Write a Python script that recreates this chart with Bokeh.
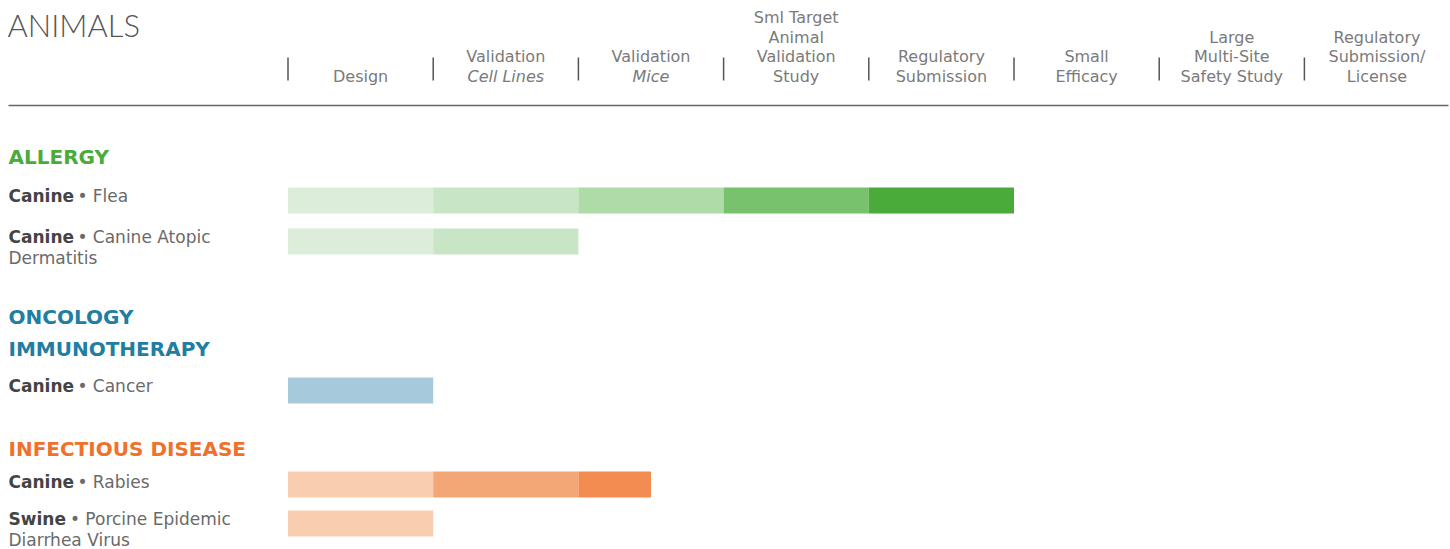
from bokeh.plotting import figure
from bokeh.models import Range1d, ColumnDataSource
from bokeh.core.properties import value
from bokeh.embed import file_html
from bokeh.resources import INLINE
import math

# ---------------- data ----------------
title = "ANIMALS"
stage_lines = [["Design"], ["Validation", "Cell Lines"], ["Validation", "Mice"],
               ["Sml Target", "Animal", "Validation", "Study"], ["Regulatory", "Submission"],
               ["Small", "Efficacy"], ["Large", "Multi-Site", "Safety Study"],
               ["Regulatory", "Submission/", "License"]]
stage_last_italic = [False, True, True, False, False, False, False, False]

areas = [["ALLERGY"], ["ONCOLOGY", "IMMUNOTHERAPY"], ["INFECTIOUS DISEASE"]]
area_colors = ["#4aab3a", "#1f7ea1", "#f0712c"]
area_palettes = [["#dcedda", "#c8e6c5", "#aedba7", "#78c26d", "#4aab3a"],
                 ["#a7c9dc"],
                 ["#f9cdb0", "#f3a777", "#f38c51"]]

species = ["Canine", "Canine", "Canine", "Canine", "Swine"]
indications = [["Flea"], ["Canine Atopic", "Dermatitis"], ["Cancer"], ["Rabies"],
               ["Porcine Epidemic", "Diarrhea Virus"]]
program_area = [0, 0, 1, 2, 2]
progress = [5, 2, 1, 2.5, 1]

# ---------------- layout ----------------
W, H = 1450, 549
OX, OY = 0, 0
X0, SW = 287.5, 145.2   # px of stage 0 and stage width


def sx(px):
    return (px - X0) / SW


p = figure(width=W, height=H, output_backend="svg", toolbar_location=None,
           x_range=Range1d(sx(OX), sx(OX + W)), y_range=Range1d(OY + H, OY),
           min_border=0, outline_line_color=None)
p.axis.visible = False
p.grid.visible = False
p.background_fill_color = "white"

FONT = value("DejaVu Sans")

# title
p.text(x=[sx(7)], y=[24], text=[title], text_font=value("Lato Light"),
       text_font_size="31px", text_color="#555555", text_baseline="middle")

# stage headers
line_ys = [17, 36.5, 56, 75.5]
hx, hy, ht, hi = [], [], [], []
for i, lines in enumerate(stage_lines):
    n = len(lines)
    for j, t in enumerate(lines):
        hx.append(i + 0.5)
        hy.append(line_ys[4 - n + j])
        ht.append(t)
        hi.append("italic" if (stage_last_italic[i] and j == n - 1) else "normal")
p.text(x="x", y="y", text="t", text_font_style="s",
       source=ColumnDataSource(dict(x=hx, y=hy, t=ht, s=hi)),
       text_font=FONT, text_font_size="16px", text_color="#7a7a7a",
       text_align="center", text_baseline="middle")

# dividers
nb = len(stage_lines)
p.segment(x0=list(range(nb)), x1=list(range(nb)), y0=[57] * nb, y1=[80] * nb,
          line_color="#555555", line_width=1.5)
p.segment(x0=[sx(8)], x1=[sx(1448)], y0=[105], y1=[105], line_color="#666666", line_width=1.5)

# area headers
area_y = [[156], [316, 348], [448]]
for a, lines in enumerate(areas):
    p.text(x=[sx(8)] * len(lines), y=area_y[a], text=lines, text_font=FONT,
           text_font_style="bold", text_font_size="20px", text_color=area_colors[a],
           text_baseline="middle")

# program rows
FS = 17
row_y = [[195], [236, 257], [385], [481], [518, 539]]
bar_y = [200, 241, 390, 484, 523]
BH = 26
bold_w = {"C": 0.698, "a": 0.675, "n": 0.712, "i": 0.343, "e": 0.678, "S": 0.72, "w": 0.924}
for r in range(len(species)):
    ys = row_y[r]
    w = sum(bold_w.get(c, 0.65) for c in species[r]) * FS
    p.text(x=[sx(8)], y=[ys[0]], text=[species[r]], text_font=FONT, text_font_style="bold",
           text_font_size=f"{FS}px", text_color="#444444", text_baseline="middle")
    lines = indications[r]
    p.text(x=[sx(8 + w + 4)], y=[ys[0]], text=["\u2022 " + lines[0]], text_font=FONT,
           text_font_size=f"{FS}px", text_color="#6a6a6a", text_baseline="middle")
    if len(lines) > 1:
        p.text(x=[sx(8)], y=[ys[1]], text=[lines[1]], text_font=FONT,
               text_font_size=f"{FS}px", text_color="#6a6a6a", text_baseline="middle")

    pal = area_palettes[program_area[r]]
    nseg = math.ceil(progress[r])
    left = [k for k in range(nseg)]
    right = [min(k + 1, progress[r]) for k in range(nseg)]
    cols = [pal[k] for k in range(nseg)]
    p.quad(left=left, right=right, top=[bar_y[r] - BH / 2] * nseg,
           bottom=[bar_y[r] + BH / 2] * nseg, fill_color=cols, line_color=None)

open("out.html", "w").write(file_html(p, INLINE))
